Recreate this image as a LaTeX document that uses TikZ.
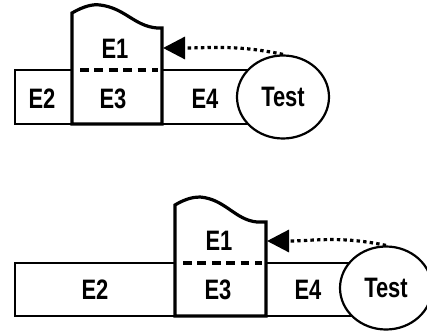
\documentclass[tikz,border=0pt]{standalone}
\usepackage{fontspec}
\setmainfont[FakeStretch=0.78]{Liberation Sans}
\usetikzlibrary{arrows.meta,shapes.geometric}

\tikzset{
  lbl/.style={font=\bfseries\fontsize{20}{22}\selectfont, inner sep=0pt},
  row/.style={line width=0.7mm},
  box/.style={line width=0.8mm, line join=miter, fill=white},
  cut/.style={line width=0.8mm, dash pattern=on 2.2mm off 1.4mm},
  testnode/.style={draw, ellipse, fill=white, line width=0.55mm, inner sep=0pt,
    minimum width=23mm, minimum height=20.75mm, font=\bfseries\fontsize{20}{22}\selectfont},
  hint/.style={line width=0.8mm, dash pattern=on 0.85mm off 0.8mm,
    -{Triangle[length=5.5mm,width=5.5mm]}}
}

\begin{document}
\begin{tikzpicture}[x=0.25mm, y=-0.25mm]

\useasboundingbox (0,0) rectangle (427,331);

% upper picture
\draw[row] (15,70) rectangle (283,124);

\draw[box] (72,124) -- (72,13) .. controls (84,6) and (93,4) .. (100,5)
  .. controls (125,8) and (134,26) .. (157,28) -- (162,28) -- (162,124) -- cycle;

\draw[cut] (80,70) -- (158,70);

\node[lbl] (e1a) at (115,49) {E1};
\node[lbl] (e2a) at (42,99) {E2};
\node[lbl] (e3a) at (113,99) {E3};
\node[lbl] (e4a) at (205,99) {E4};

\node[testnode] (testa) at (283,97) {Test};

\coordinate (tipa) at (163,48);
\draw[hint] (testa.north) to[out=168,in=0] (tipa);

% lower picture
\draw[row] (15,263) rectangle (386,316);

\draw[box] (175,316) -- (175,205) .. controls (185,199) and (193,197) .. (200,197)
  .. controls (225,199) and (235,220) .. (257,222) -- (266,222) -- (266,316) -- cycle;

\draw[cut] (183,263) -- (262,263);

\node[lbl] (e1b) at (219,241) {E1};
\node[lbl] (e2b) at (95,290) {E2};
\node[lbl] (e3b) at (218,290) {E3};
\node[lbl] (e4b) at (308,290) {E4};

\node[testnode] (testb) at (386,288) {Test};

\coordinate (tipb) at (267,241);
\draw[hint] (testb.north) to[out=168,in=0] (tipb);

\end{tikzpicture}
\end{document}
